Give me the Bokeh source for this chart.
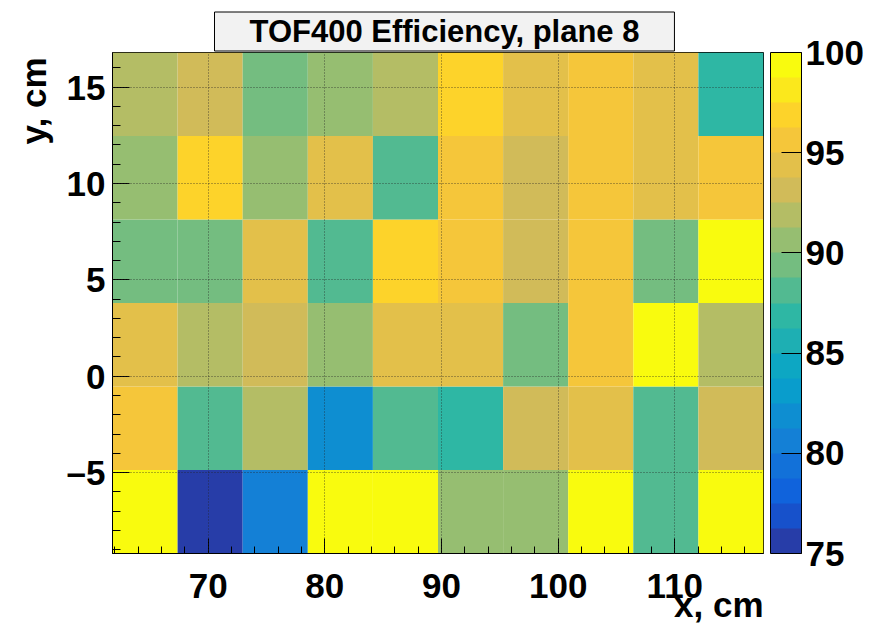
import numpy as np
from bokeh.plotting import figure
from bokeh.models import (ColumnDataSource, LinearColorMapper, ColorBar, FixedTicker,
                          SingleIntervalTicker, Title, Range1d)
from bokeh.embed import file_html
from bokeh.resources import INLINE

# ---- texts -------------------------------------------------------------
title_text = "TOF400 Efficiency, plane 8"
x_title = "x, cm"
y_title = "y, cm"

# ---- binning of the efficiency map --------------------------------------
x_min, x_max, n_x = 61.8, 117.6, 10
y_min, y_max, n_y = -9.2, 16.8, 6

# ---- efficiency per cell, %, one list per y bin (lowest y first) ----------
eff_y0 = [100.0, 75.7, 80.6, 100.0, 100.0, 90.7, 90.5, 100.0, 88.2, 100.0]
eff_y1 = [95.7, 88.0, 92.0, 81.9, 88.1, 86.8, 93.2, 94.3, 88.3, 93.0]
eff_y2 = [94.5, 91.8, 93.1, 90.7, 94.4, 94.2, 89.5, 95.8, 100.0, 91.9]
eff_y3 = [89.3, 89.4, 94.6, 88.0, 97.0, 95.5, 93.3, 95.7, 89.6, 100.0]
eff_y4 = [90.8, 97.1, 90.6, 94.5, 88.2, 95.9, 93.0, 95.4, 94.4, 95.6]
eff_y5 = [91.9, 93.2, 89.5, 90.7, 92.1, 96.8, 94.6, 95.7, 94.3, 86.9]
eff_rows = [eff_y0, eff_y1, eff_y2, eff_y3, eff_y4, eff_y5]

# ---- colour scale ---------------------------------------------------------
z_min, z_max, n_levels = 75.0, 100.0, 20
z_ticks = [75, 80, 85, 90, 95, 100]
x_ticks_step, y_ticks_step = 10, 5


def bird_palette(levels, n_colors=255):
    """ROOT 'bird' gradient sampled the way COLZ picks its contour colours."""
    stops = [0.0, 0.125, 0.25, 0.375, 0.5, 0.625, 0.75, 0.875, 1.0]
    red = [0.2082, 0.0592, 0.0780, 0.0232, 0.1802, 0.5301, 0.8186, 0.9956, 0.9764]
    green = [0.1664, 0.3599, 0.5041, 0.6419, 0.7178, 0.7492, 0.7328, 0.7862, 0.9832]
    blue = [0.5293, 0.8684, 0.8385, 0.7914, 0.6425, 0.4662, 0.3499, 0.1968, 0.0539]
    out = []
    for lev in range(levels):
        idx = min(int((lev + 0.99) * n_colors / levels), n_colors - 1)
        pos = idx / (n_colors - 1)
        r = np.interp(pos, stops, red)
        g = np.interp(pos, stops, green)
        b = np.interp(pos, stops, blue)
        out.append("#%02x%02x%02x" % (int(round(r * 255)), int(round(g * 255)), int(round(b * 255))))
    return out


palette = bird_palette(n_levels)
mapper = LinearColorMapper(palette=palette, low=z_min, high=z_max)

x_edges = np.linspace(x_min, x_max, n_x + 1)
y_edges = np.linspace(y_min, y_max, n_y + 1)
left, right, bottom, top, z = [], [], [], [], []
for j, row in enumerate(eff_rows):
    for i, v in enumerate(row):
        left.append(x_edges[i]); right.append(x_edges[i + 1])
        bottom.append(y_edges[j]); top.append(y_edges[j + 1])
        z.append(v)
src = ColumnDataSource(dict(left=left, right=right, bottom=bottom, top=top, z=z))

FONT = "Liberation Sans"

p = figure(width=878, height=624,
           x_range=Range1d(x_min, x_max), y_range=Range1d(y_min, y_max),
           output_backend="svg", toolbar_location=None,
           min_border_left=112, min_border_right=115,
           min_border_top=52, min_border_bottom=71)
p.background_fill_color = "white"
p.border_fill_color = "white"
p.outline_line_color = "black"
p.outline_line_width = 1

p.quad(left="left", right="right", bottom="bottom", top="top", source=src,
       fill_color={"field": "z", "transform": mapper}, line_color=None)

# ---- axes: ticks pointing inwards, bold labels ------------------------------
p.xaxis.ticker = SingleIntervalTicker(interval=x_ticks_step, num_minor_ticks=5)
p.yaxis.ticker = SingleIntervalTicker(interval=y_ticks_step, num_minor_ticks=5)
for ax in (p.xaxis[0], p.yaxis[0]):
    ax.major_label_text_font = FONT
    ax.major_label_text_font_style = "bold"
    ax.major_label_text_font_size = "35px"
    ax.major_label_text_color = "black"
    ax.axis_line_color = "black"
    ax.major_tick_line_color = "black"
    ax.minor_tick_line_color = "black"
    ax.major_tick_out = 0
    ax.minor_tick_out = 0
p.xaxis.major_tick_in = 15
p.xaxis.minor_tick_in = 7
p.yaxis.major_tick_in = 17
p.yaxis.minor_tick_in = 8
p.xaxis.major_label_standoff = 20
p.yaxis.major_label_standoff = 7
p.yaxis.major_label_overrides = {-5: "\u20135"}

for g in (p.xgrid[0], p.ygrid[0]):
    g.grid_line_color = "#222222"
    g.grid_line_alpha = 0.7
    g.grid_line_dash = "1 2"
    g.grid_line_width = 1
    g.level = "overlay"

# ---- axis titles, flush with the far ends of the axes -----------------------
title_style = dict(text_font=FONT, text_font_style="bold", text_font_size="35px",
                   text_color="black", align="right")
p.add_layout(Title(text=x_title, standoff=-35, **title_style), "below")
p.add_layout(Title(text=y_title, standoff=22, offset=5, **title_style), "left")

# ---- palette axis ---------------------------------------------------------
cb = ColorBar(color_mapper=mapper, ticker=FixedTicker(ticks=z_ticks),
              width=31, height=501, location=(7, 0), margin=0, padding=0,
              major_tick_in=20, major_tick_out=0, major_tick_line_color="black",
              minor_tick_line_color=None, bar_line_color="black",
              major_label_text_font=FONT, major_label_text_font_style="bold",
              major_label_text_font_size="35px", major_label_text_color="black",
              label_standoff=4, border_line_color=None, background_fill_color=None)
p.add_layout(cb, "right")

# ---- boxed title ------------------------------------------------------------
p.title = Title(text=title_text, align="left", offset=102, standoff=3,
                text_font=FONT, text_font_style="bold", text_font_size="31px",
                text_color="black", background_fill_color="#f2f2f2",
                border_line_color="black", border_line_width=1,
                padding=dict(left=35, right=35, top=2, bottom=2))

open("out.html", "w").write(file_html(p, INLINE))
